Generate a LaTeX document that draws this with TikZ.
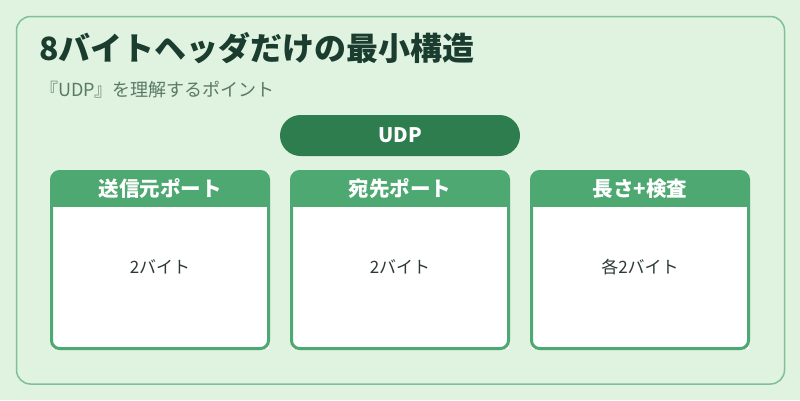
\documentclass[tikz,border=0pt]{standalone}
\usepackage{fontspec}
\setmainfont{Noto Sans CJK JP}
\usetikzlibrary{calc}
\definecolor{bgcol}{HTML}{E0F2E0}
\definecolor{framecol}{HTML}{80C096}
\definecolor{titlecol}{HTML}{1B3D2F}
\definecolor{subcol}{HTML}{5A7A66}
\definecolor{pillcol}{HTML}{2E7D4F}
\definecolor{boxcol}{HTML}{4EA872}
\definecolor{bodycol}{HTML}{2B3B33}
\tikzstyle{frame} = [draw=framecol,line width=1.5pt,rounded corners=14pt]
\tikzstyle{pill} = [fill=pillcol,rounded corners=20.5pt,minimum width=240pt,minimum height=41pt,inner sep=0pt,text=white,font=\bfseries\fontsize{20}{20}\selectfont]
\tikzstyle{box} = [fill=white,minimum width=217pt,minimum height=177pt,outer sep=0pt]
\tikzstyle{boxline} = [draw=boxcol,line width=3pt,rounded corners=8pt]
\tikzstyle{head} = [text=white,inner sep=0pt,font=\bfseries\fontsize{20.5}{20.5}\selectfont]
\tikzstyle{body} = [text=bodycol,inner sep=0pt,font=\fontsize{17}{17}\selectfont]

\begin{document}
\begin{tikzpicture}[x=1pt,y=-1pt]
\useasboundingbox[fill=bgcol] (0,0) rectangle (800,400);
\draw[frame] (16.5,16.5) rectangle (784.5,384);
\node[anchor=base west,inner sep=0pt,text=titlecol,font=\bfseries\fontsize{32}{32}\selectfont] (title) at (39,60) {8バイトヘッダだけの最小構造};
\node[anchor=base west,inner sep=0pt,text=subcol,font=\fontsize{18}{18}\selectfont] (subtitle) at (40,96) {『UDP』を理解するポイント};
\node[pill] (udp) at (400,135.5) {UDP};
\foreach \i/\head/\body in {0/送信元ポート/2バイト,1/宛先ポート/2バイト,2/長さ+検査/各2バイト}{
	\node[box] (box\i) at (160+240*\i,260) {};
	\begin{scope}
		\clip[rounded corners=8pt] (box\i.north west) rectangle (box\i.south east);
		\fill[boxcol] (box\i.north west) rectangle ($(box\i.north east)+(0,35.5)$);
	\end{scope}
	\draw[boxline] (box\i.north west) rectangle (box\i.south east);
	\node[head] (head\i) at ($(box\i.north)+(0,17)$) {\head};
	\node[body] (body\i) at ($(box\i.center)+(0,7)$) {\body};
}
\end{tikzpicture}
\end{document}
